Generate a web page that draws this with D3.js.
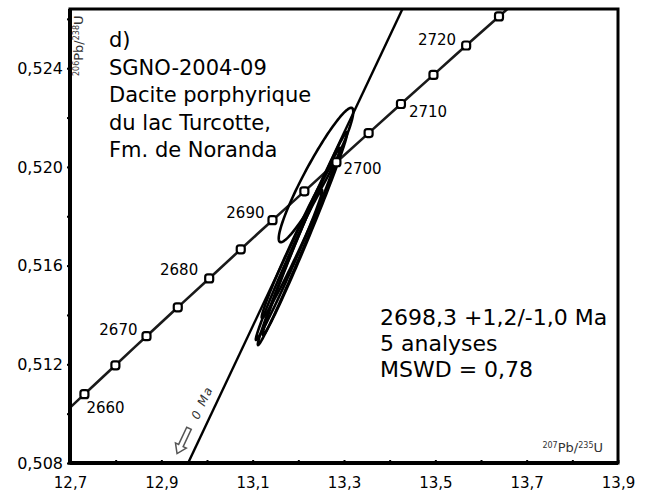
<!DOCTYPE html>
<html><head><meta charset="utf-8">
<script src="https://cdn.jsdelivr.net/npm/d3@7"></script>
<style>
html,body{margin:0;padding:0;background:#fff;}
svg{display:block;font-family:"DejaVu Sans",sans-serif;}
</style></head>
<body><svg id="c" width="655" height="500"></svg>
<script>
// ---- data ----
const concordiaAges = [2655,2660,2665,2670,2675,2680,2685,2690,2695,2700,2705,2710,2715,2720,2725,2730];
const concordiaX = [12.6642,12.7316,12.7994,12.8675,12.9360,13.0048,13.0739,13.1434,13.2132,13.2834,13.3539,13.4247,13.4959,13.5675,13.6394,13.7117];
const concordiaY = [0.50962,0.51079,0.51196,0.51314,0.51431,0.51548,0.51666,0.51784,0.51901,0.52019,0.52137,0.52255,0.52373,0.52492,0.52610,0.52728];
const markerAges = [2660,2665,2670,2675,2680,2685,2690,2695,2700,2705,2710,2715,2720,2725];
const labelAges = [2660,2670,2680,2690,2700,2710,2720];

const ellX = [13.2387,13.2015,13.2146,13.1982,13.1796];
const ellY = [0.519672,0.516774,0.517301,0.516977,0.516024];
const ellSX = [0.08163,0.09024,0.09252,0.07837,0.07270];
const ellSY = [0.002723,0.003993,0.004114,0.003102,0.003040];
const ellRho = [0.9426,0.9929,0.9918,0.9881,0.9913];

const discordiaX = [0, 13.2594];
const discordiaY = [0, 0.51979];

const xTicks = [12.7,12.8,12.9,13.0,13.1,13.2,13.3,13.4,13.5,13.6,13.7,13.8,13.9];
const xLabelTicks = [12.7,12.9,13.1,13.3,13.5,13.7,13.9];
const yTicks = [0.508,0.510,0.512,0.514,0.516,0.518,0.520,0.522,0.524,0.526];
const yLabelTicks = [0.508,0.512,0.516,0.520,0.524];

const infoLines = ["d)","SGNO-2004-09","Dacite porphyrique","du lac Turcotte,","Fm. de Noranda"];
const resultLines = ["2698,3 +1,2/-1,0 Ma","5 analyses","MSWD = 0,78"];
const zeroLabel = "0 Ma";

// ---- layout ----
const L = 70, R = 618, T = 9, B = 463;
const x = d3.scaleLinear().domain([12.7,13.9]).range([L,R]);
const y = d3.scaleLinear().domain([0.508,0.5264]).range([B,T]);
const loc = d3.formatLocale({decimal:",",thousands:" ",grouping:[3],currency:["",""]});
const fx = loc.format(".1f"), fy = loc.format(".3f");
const near = (a,arr)=>arr.some(v=>Math.abs(v-a)<1e-9);
const FONT = "'DejaVu Sans',sans-serif";

const svg = d3.select("#c");
svg.append("defs").append("clipPath").attr("id","clip")
  .append("rect").attr("x",L).attr("y",T).attr("width",R-L).attr("height",B-T);
const plot = svg.append("g").attr("clip-path","url(#clip)");

// axes
const yAxis = d3.axisLeft(y).tickValues(yTicks).tickSize(3).tickPadding(4)
  .tickFormat(d=>near(d,yLabelTicks)?fy(d):"");
const gy = svg.append("g").attr("transform",`translate(${L},0)`).call(yAxis);
gy.select(".domain").remove();
gy.selectAll("text").attr("font-size",16).attr("fill","#000").attr("font-family",FONT);
gy.selectAll("line").attr("stroke","#000").attr("stroke-width",2);

const xAxis = d3.axisBottom(x).tickValues(xTicks).tickSizeInner(-3).tickSizeOuter(0).tickPadding(14)
  .tickFormat(d=>near(d,xLabelTicks)?fx(d):"");
const gx = svg.append("g").attr("transform",`translate(0,${B})`).call(xAxis);
gx.select(".domain").remove();
gx.selectAll("text").attr("font-size",15).attr("fill","#000").attr("font-family",FONT);
gx.selectAll("line").attr("stroke","#000").attr("stroke-width",2);

// concordia curve
const conPts = concordiaAges.map((a,i)=>[concordiaX[i],concordiaY[i]]);
plot.append("path").datum(conPts)
  .attr("d",d3.line().x(d=>x(d[0])).y(d=>y(d[1])).curve(d3.curveCatmullRom))
  .attr("fill","none").attr("stroke","#1a1a1a").attr("stroke-width",2.6);

// discordia line (extended through plot)
const k = discordiaY[1]/discordiaX[1];
const dStart = 0.505, dEnd = 0.53;
plot.append("path").datum([[dStart/k,dStart],[dEnd/k,dEnd]])
  .attr("d",d3.line().x(d=>x(d[0])).y(d=>y(d[1])))
  .attr("fill","none").attr("stroke","#000").attr("stroke-width",2.4);

// error ellipses
const ellGen = i => {
  const pts = d3.range(0,361,3).map(deg=>{
    const t = deg*Math.PI/180;
    const ex = ellX[i] + ellSX[i]*Math.cos(t);
    const ey = ellY[i] + ellSY[i]*(ellRho[i]*Math.cos(t)+Math.sqrt(1-ellRho[i]*ellRho[i])*Math.sin(t));
    return [x(ex),y(ey)];
  });
  return d3.line().curve(d3.curveLinearClosed)(pts);
};
plot.selectAll("path.ell").data(d3.range(ellX.length)).join("path").attr("class","ell")
  .attr("d",ellGen).attr("fill","none").attr("stroke","#000").attr("stroke-width",2.6);

// markers
const idx = a => concordiaAges.indexOf(a);
svg.selectAll("rect.mk").data(markerAges).join("rect").attr("class","mk")
  .attr("x",a=>x(concordiaX[idx(a)])-4).attr("y",a=>y(concordiaY[idx(a)])-4)
  .attr("width",8).attr("height",8).attr("rx",2.5)
  .attr("fill","#fff").attr("stroke","#000").attr("stroke-width",2.2);

// age labels
const labPos = {2660:[2,19,"start"],2670:[-9,-1,"end"],2680:[-11,-3,"end"],2690:[-8,-2,"end"],
                2700:[7,12,"start"],2710:[8,13,"start"],2720:[-10,-1,"end"]};
svg.selectAll("text.age").data(labelAges).join("text").attr("class","age")
  .attr("x",a=>x(concordiaX[idx(a)])+labPos[a][0])
  .attr("y",a=>y(concordiaY[idx(a)])+labPos[a][1])
  .attr("text-anchor",a=>labPos[a][2]).attr("font-size",15).attr("fill","#000")
  .text(a=>a);

// 0 Ma label and arrow
const ang = Math.atan2(y(0.52)-y(0.508), x(0.52/k)-x(0.508/k))*180/Math.PI;
const tY = 0.50958;
svg.append("text").attr("transform",`translate(${x(tY/k)},${y(tY)}) rotate(${ang})`)
  .attr("dy",-9).attr("font-size",12).attr("letter-spacing",1.5).attr("font-style","italic").attr("fill","#333")
  .text(zeroLabel);
const aY = 0.50865;
svg.append("path").attr("transform",`translate(${x(aY/k)},${y(aY)}) rotate(${ang}) translate(0,-14)`)
  .attr("d","M-14,0 L-5,-6 L-5,-2.5 L14,-2.5 L14,2.5 L-5,2.5 L-5,6 Z")
  .attr("fill","#fff").attr("stroke","#555").attr("stroke-width",1.5);

// text blocks
svg.selectAll("text.info").data(infoLines).join("text").attr("class","info")
  .attr("x",109).attr("y",(d,i)=>47+i*27.5).attr("font-size",21).attr("fill","#000").text(d=>d);
svg.selectAll("text.res").data(resultLines).join("text").attr("class","res")
  .attr("x",380).attr("y",(d,i)=>325+i*26).attr("font-size",22).attr("fill","#000").text(d=>d);

// axis titles
const yt = svg.append("text").attr("transform",`translate(83,76) rotate(-90)`)
  .attr("font-size",13).attr("fill","#333");
yt.append("tspan").attr("font-size",8).attr("dy",-4).text("206");
yt.append("tspan").attr("dy",4).text("Pb/");
yt.append("tspan").attr("font-size",8).attr("dy",-4).text("238");
yt.append("tspan").attr("dy",4).text("U");

const xt = svg.append("text").attr("x",603).attr("y",452).attr("text-anchor","end")
  .attr("font-size",13).attr("fill","#333");
xt.append("tspan").attr("font-size",8).attr("dy",-4).text("207");
xt.append("tspan").attr("dy",4).text("Pb/");
xt.append("tspan").attr("font-size",8).attr("dy",-4).text("235");
xt.append("tspan").attr("dy",4).text("U");

// frame
svg.append("rect").attr("x",L).attr("y",T).attr("width",R-L).attr("height",B-T)
  .attr("fill","none").attr("stroke","#000").attr("stroke-width",3);
svg.append("line").attr("x1",L).attr("x2",L).attr("y1",T).attr("y2",B+1.5)
  .attr("stroke","#000").attr("stroke-width",4);
svg.append("line").attr("x1",L).attr("x2",R).attr("y1",B).attr("y2",B)
  .attr("stroke","#000").attr("stroke-width",4);
</script></body></html>
